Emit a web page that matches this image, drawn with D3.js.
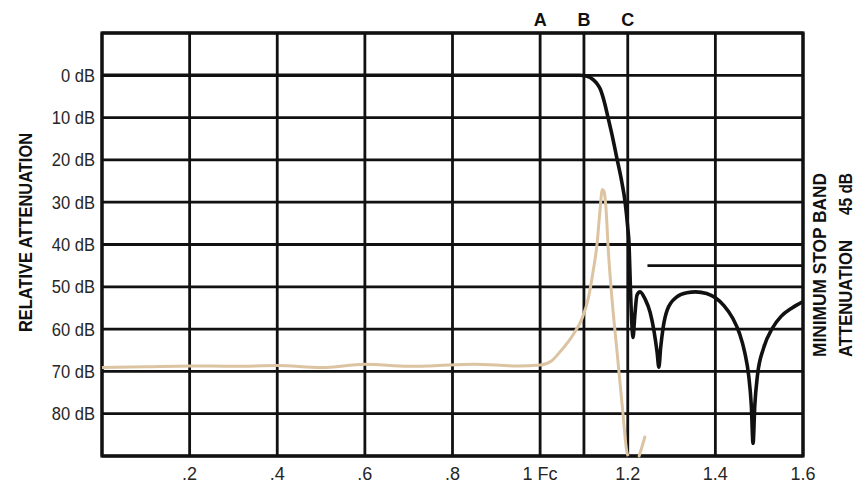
<!DOCTYPE html>
<meta charset="utf-8">
<style>
    body {
        margin: 0;
        background: #fff;
    }
</style>
<svg width="858" height="483" font-family="'Liberation Sans', Arial, sans-serif"></svg>
<script src="https://cdn.jsdelivr.net/npm/d3@7/dist/d3.min.js"></script>
<script>

    // grid positions
    var freqLines = [0, 0.2, 0.4, 0.6, 0.8, 1.0, 1.1, 1.2, 1.4, 1.6];
    var dbLines = [-10, 0, 10, 20, 30, 40, 50, 60, 70, 80, 90];

    // tick labels
    var xTicks = [0.2, 0.4, 0.6, 0.8, 1.0, 1.2, 1.4, 1.6];
    var xTickLabels = [".2", ".4", ".6", ".8", "1 Fc", "1.2", "1.4", "1.6"];
    var yTicks = [0, 10, 20, 30, 40, 50, 60, 70, 80];
    var yTickLabels = ["0 dB", "10 dB", "20 dB", "30 dB", "40 dB", "50 dB", "60 dB", "70 dB", "80 dB"];

    // A / B / C markers above the grid
    var markerFreq = [1.0, 1.1, 1.2];
    var markerLabels = ["A", "B", "C"];

    // filter response (black)
    var responseFreq = [0, 0.5, 1.0, 1.09, 1.107, 1.121, 1.13, 1.137, 1.147, 1.155, 1.165, 1.176, 1.186, 1.194,
        1.2, 1.203, 1.206, 1.209, 1.212, 1.216, 1.221, 1.228, 1.24, 1.251, 1.26, 1.267, 1.271, 1.275, 1.281,
        1.29, 1.312, 1.335, 1.355, 1.38, 1.4, 1.42, 1.44, 1.455, 1.467, 1.476, 1.482, 1.486, 1.49, 1.496,
        1.51, 1.53, 1.55, 1.575, 1.6];
    var responseDb = [0, 0, 0, 0, 0.2, 1, 2, 3.2, 6.5, 10, 14.5, 20, 25, 30,
        36, 40, 50, 58, 62, 57, 52, 51.2, 53, 56, 60.5, 65.5, 69, 64.5, 59.5,
        55.5, 52.4, 51.4, 51.2, 51.6, 52.6, 54.5, 57.5, 61, 65.5, 71, 78, 87, 78, 71,
        64.5, 59.8, 57, 55, 53.5];

    // alias / spurious response (tan)
    var aliasFreq = [0, 0.1, 0.2, 0.3, 0.4, 0.5, 0.6, 0.7, 0.75, 0.85, 0.95, 1.0, 1.025, 1.046, 1.076, 1.096,
        1.11, 1.121, 1.13, 1.136, 1.142, 1.146, 1.15, 1.156, 1.165, 1.176, 1.187, 1.199, 1.201];
    var aliasDb = [69.1, 68.9, 68.7, 68.8, 68.6, 69.1, 68.3, 68.8, 68.7, 68.3, 68.7, 68.5, 67.6, 65.3, 61.2, 57.4,
        52.7, 46.3, 39.8, 32.7, 27, 27.5, 31, 42, 54, 65.8, 77.7, 89.5, 90];
    var aliasTailFreq = [1.226, 1.232, 1.239];
    var aliasTailDb = [90, 88, 85.5];

    // minimum stop band level
    var stopBandDb = 45;
    var stopBandFrom = 1.245;

    var svg = d3.select("svg"),
        x = d3.scaleLinear().domain([0, 1.6]).range([102, 803]),
        y = d3.scaleLinear().domain([-10, 90]).range([33, 456]);

    var ink = "#111";

    // grid
    var grid = svg.append("g").attr("stroke", ink).attr("stroke-width", 2.8);

    grid.selectAll(".v")
        .data(freqLines)
        .enter().append("line")
        .attr("x1", function (d) { return x(d); })
        .attr("x2", function (d) { return x(d); })
        .attr("y1", y(-10))
        .attr("y2", y(90));

    grid.selectAll(".h")
        .data(dbLines)
        .enter().append("line")
        .attr("x1", x(0))
        .attr("x2", x(1.6))
        .attr("y1", function (d) { return y(d); })
        .attr("y2", function (d) { return y(d); });

    grid.append("rect")
        .attr("x", x(0))
        .attr("y", y(-10))
        .attr("width", x(1.6) - x(0))
        .attr("height", y(90) - y(-10))
        .attr("fill", "none")
        .attr("stroke-width", 3.2);

    // stop band marker line
    svg.append("line")
        .attr("x1", x(stopBandFrom))
        .attr("x2", x(1.6))
        .attr("y1", y(stopBandDb))
        .attr("y2", y(stopBandDb))
        .attr("stroke", ink)
        .attr("stroke-width", 2.8);

    var line = d3.line()
        .x(function (d) { return x(d[0]); })
        .y(function (d) { return y(d[1]); })
        .curve(d3.curveMonotoneX);

    function pairs(fs, ds) {
        return fs.map(function (f, i) { return [f, ds[i]]; });
    }

    // tan curves
    svg.append("path")
        .attr("d", line(pairs(aliasFreq, aliasDb)))
        .attr("fill", "none")
        .attr("stroke", "#dcc4a2")
        .attr("stroke-width", 3)
        .attr("stroke-linejoin", "round");

    svg.append("path")
        .attr("d", line(pairs(aliasTailFreq, aliasTailDb)))
        .attr("fill", "none")
        .attr("stroke", "#dcc4a2")
        .attr("stroke-width", 3)
        .attr("stroke-linecap", "round");

    // black response
    svg.append("path")
        .attr("d", line(pairs(responseFreq, responseDb)))
        .attr("fill", "none")
        .attr("stroke", ink)
        .attr("stroke-width", 3.6)
        .attr("stroke-linejoin", "round");

    // y tick labels
    svg.append("g")
        .selectAll("text")
        .data(yTicks)
        .enter().append("text")
        .attr("x", 95)
        .attr("y", function (d) { return y(d); })
        .attr("dy", "0.36em")
        .attr("text-anchor", "end")
        .attr("font-size", 18)
        .attr("fill", "#262626")
        .attr("transform", "translate(95,0)scale(0.92,1)translate(-95,0)")
        .text(function (d, i) { return yTickLabels[i]; });

    // x tick labels
    svg.append("g")
        .selectAll("text")
        .data(xTicks)
        .enter().append("text")
        .attr("x", function (d) { return x(d); })
        .attr("y", 480)
        .attr("text-anchor", "middle")
        .attr("font-size", 18)
        .attr("fill", "#262626")
        .text(function (d, i) { return xTickLabels[i]; });

    // A B C
    svg.append("g")
        .selectAll("text")
        .data(markerFreq)
        .enter().append("text")
        .attr("x", function (d) { return x(d); })
        .attr("y", 26)
        .attr("text-anchor", "middle")
        .attr("font-size", 18)
        .attr("font-weight", "bold")
        .attr("fill", ink)
        .text(function (d, i) { return markerLabels[i]; });

    // axis title
    svg.append("text")
        .attr("transform", "translate(32,332)rotate(-90)")
        .attr("font-size", 19)
        .attr("font-weight", "bold")
        .attr("fill", ink)
        .attr("textLength", 199)
        .attr("lengthAdjust", "spacingAndGlyphs")
        .text("RELATIVE ATTENUATION");

    // right note
    var note = svg.append("g")
        .attr("font-size", 18)
        .attr("font-weight", "bold")
        .attr("fill", ink);

    note.append("text")
        .attr("transform", "translate(826,357)rotate(-90)")
        .attr("textLength", 184)
        .attr("lengthAdjust", "spacingAndGlyphs")
        .text("MINIMUM STOP BAND");

    note.append("text")
        .attr("transform", "translate(852,357)rotate(-90)")
        .attr("textLength", 117)
        .attr("lengthAdjust", "spacingAndGlyphs")
        .text("ATTENUATION");

    note.append("text")
        .attr("transform", "translate(852,173)rotate(-90)")
        .attr("text-anchor", "end")
        .attr("textLength", 42)
        .attr("lengthAdjust", "spacingAndGlyphs")
        .text("45 dB");
</script>
